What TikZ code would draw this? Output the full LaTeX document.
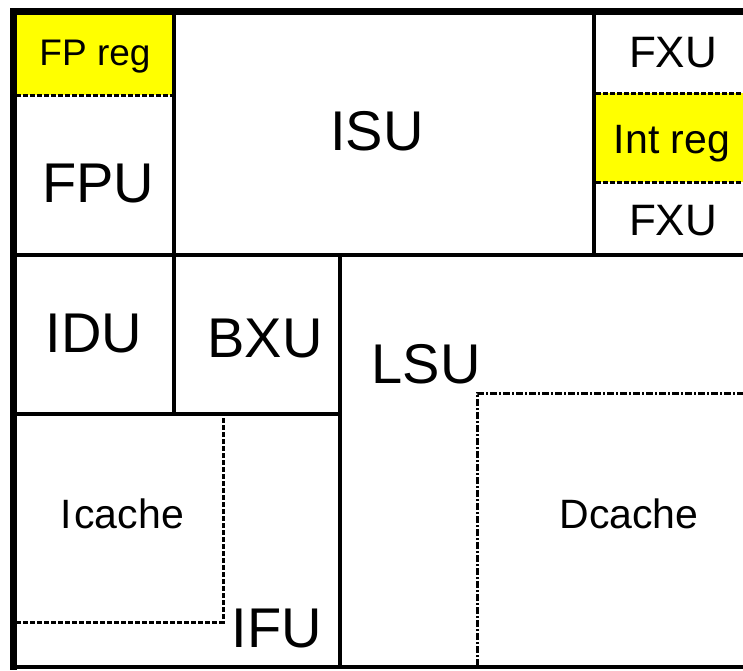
\documentclass[tikz,border=0pt]{standalone}
\usepackage{fontspec}
\setmainfont{Liberation Sans}
\usepackage{xcolor}
\definecolor{amarilloReg}{HTML}{FFFF00}
\usepackage{tikz}
\usetikzlibrary{positioning}

\begin{document}
\begin{tikzpicture}[x=1pt,y=-1pt,
  borde/.style={line width=3.4pt},
  marco/.style={line width=7pt},
  corte/.style={line width=3pt,dash pattern=on 5pt off 2pt},
  corteDC/.style={line width=3pt,dash pattern=on 7pt off 2pt on 2pt off 2pt},
  grande/.style={font=\fontsize{56}{60}\selectfont,anchor=base,inner sep=0pt},
  mediano/.style={font=\fontsize{41}{46}\selectfont,anchor=base,inner sep=0pt}]
  \useasboundingbox (0,0) rectangle (743,670);
  % registros
  \fill[amarilloReg] (16,14) rectangle (173,95);
  \fill[amarilloReg] (596,93) rectangle (743,182);
  % bloques
  \draw[borde] (174,11)--(174,414);
  \draw[borde] (13,255)--(743,255);
  \draw[borde] (594,11)--(594,255);
  \draw[borde] (340,255)--(340,668);
  \draw[borde] (13,414)--(340,414);
  \draw[borde] (13,667)--(743,667);
  \draw[marco] (13,8)--(13,670);
  \draw[marco] (10,11)--(743,11);
  % subbloques
  \draw[corte] (16,95)--(173,95);
  \draw[corte] (596,93)--(743,93);
  \draw[corte] (596,182)--(743,182);
  \draw[corte] (16,622)--(223,622)--(223,418);
  \draw[corteDC] (477,666)--(477,393)--(743,393);
  % nombres
  \node[mediano,font=\fontsize{37}{42}\selectfont] (fpreg) at (95,65) {FP reg};
  \node[grande] (fpu) at (98,202) {FPU};
  \node[grande] (isu) at (377,150) {ISU};
  \node[mediano,font=\fontsize{44}{48}\selectfont] (fxuA) at (673,67) {FXU};
  \node[mediano] (intreg) at (672,153) {Int reg};
  \node[mediano,font=\fontsize{44}{48}\selectfont] (fxuB) at (673,235) {FXU};
  \node[grande] (idu) at (94,352) {IDU};
  \node[grande] (bxu) at (265,357) {BXU};
  \node[grande] (lsu) at (426,383) {LSU};
  \node[mediano] (icache) at (122,528) {I\kern3pt cache};
  \node[mediano] (dcache) at (629,528) {Dcache};
  \node[grande] (ifu) at (277,647) {IFU};
\end{tikzpicture}
\end{document}
